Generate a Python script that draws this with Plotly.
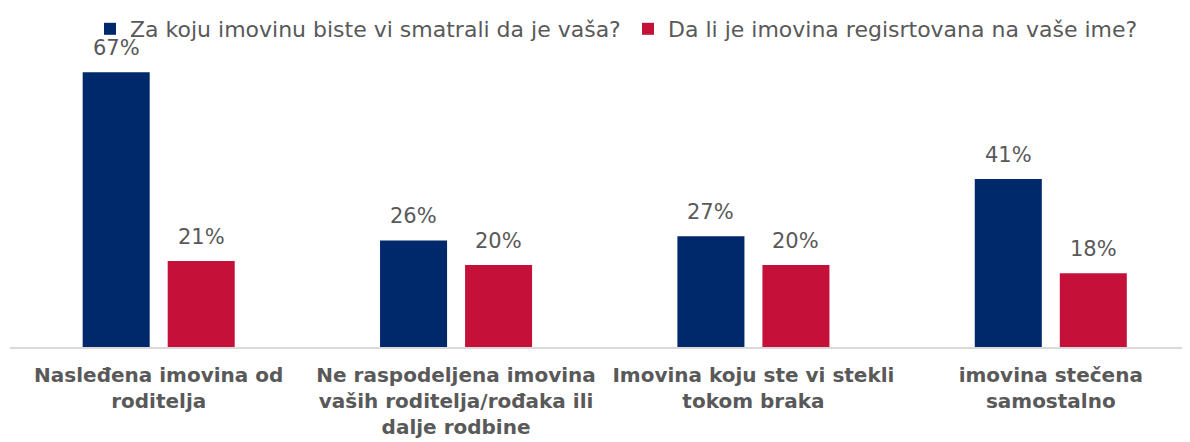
import plotly.graph_objects as go

categories = [
    "Nasleđena imovina od<br>roditelja",
    "Ne raspodeljena imovina<br>vaših roditelja/rođaka ili<br>dalje rodbine",
    "Imovina koju ste vi stekli<br>tokom braka",
    "imovina stečena<br>samostalno",
]
series_names = ["Za koju imovinu biste vi smatrali da je vaša?",
                "Da li je imovina regisrtovana na vaše ime?"]
series_a = [67, 26, 27, 41]
series_b = [21, 20, 20, 18]

BLUE = "#00296B"
RED = "#C5113A"
GRAY = "#595959"
FONT = "DejaVu Sans, Liberation Sans, Arial, sans-serif"

x = list(range(len(categories)))
bw = 0.2254
offsets = [-0.2556, 0.0303]

fig = go.Figure()
for name, vals, col, off in [(series_names[0], series_a, BLUE, offsets[0]),
                             (series_names[1], series_b, RED, offsets[1])]:
    fig.add_trace(go.Bar(
        x=x, y=vals, name=name, marker_color=col, width=bw, offset=off,
        marker_line_width=0, hoverinfo="skip"))
    for xi, v in zip(x, vals):
        fig.add_annotation(x=xi + off + bw / 2, y=v, text=f"{v}%",
                           showarrow=False, yanchor="bottom", yshift=10,
                           font=dict(family=FONT, size=21, color=GRAY))

fig.update_layout(
    width=1198, height=442,
    margin=dict(l=2, r=0, t=7, b=103),
    paper_bgcolor="white", plot_bgcolor="white",
    barmode="overlay",
    showlegend=True,
    legend=dict(orientation="h", x=0.0669, xanchor="left", y=0.97, yanchor="middle",
                font=dict(family=FONT, size=22, color=GRAY),
                bgcolor="rgba(0,0,0,0)", entrywidth=493, entrywidthmode="pixels",
                itemclick=False, itemdoubleclick=False),
    xaxis=dict(range=[-0.5, 3.522], tickmode="array", tickvals=x, ticktext=categories,
               showgrid=False, zeroline=False, showline=True, linecolor="#D9D9D9",
               linewidth=2, ticks="", ticklabelstandoff=9,
               tickfont=dict(family=FONT, size=20, color=GRAY, weight="bold")),
    yaxis=dict(range=[0, 80], visible=False, showgrid=False, zeroline=False),
)

fig.write_html("out.html",
               post_script="document.documentElement.style.overflow='hidden';"
                           "document.body.style.overflow='hidden';")
